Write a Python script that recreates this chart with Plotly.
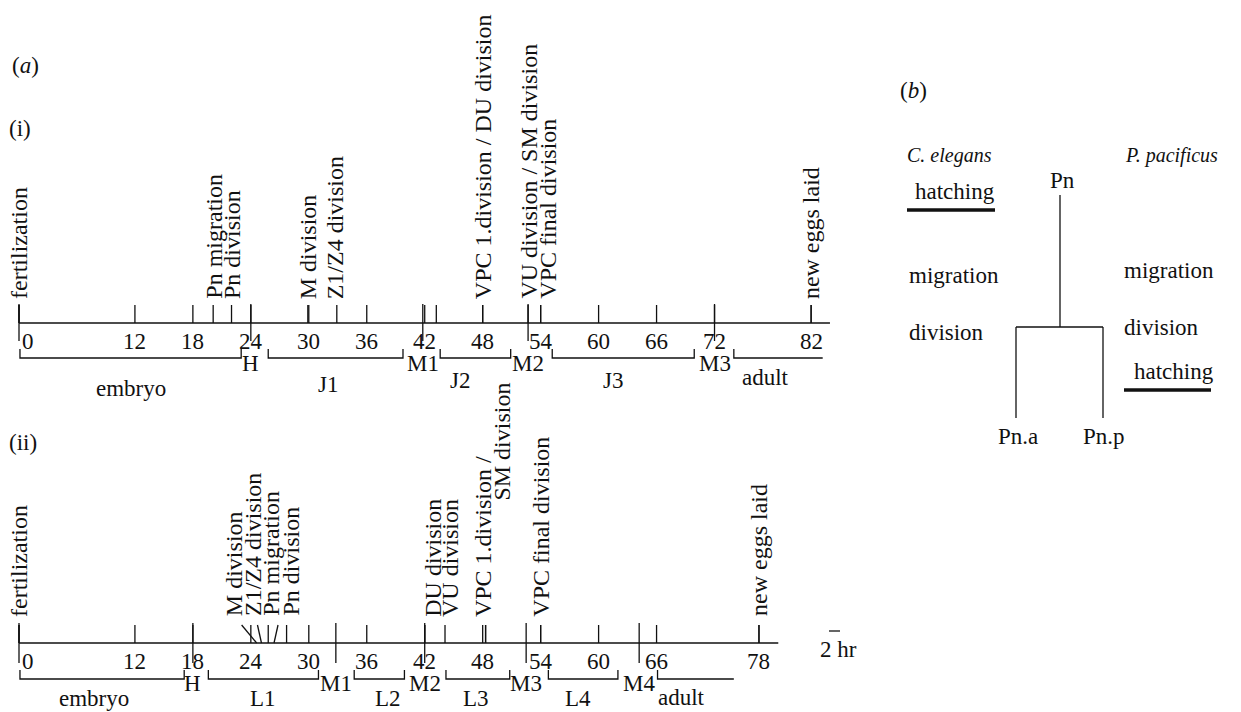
import plotly.graph_objects as go

# ---------------- data ----------------
# (i) P. pacificus timeline (hours)
hour_ticks_i = [0, 12, 18, 24, 30, 36, 42, 48, 54, 60, 66, 72, 82]
hour_labels_i = ["0", "12", "18", "24", "30", "36", "42", "48", "54", "60", "66", "72", "82"]
event_names_i = ["fertilization", "Pn migration", "Pn division", "M division",
                 "Z1/Z4 division", "VPC 1.division / DU division",
                 "VU division / SM division", "VPC final division", "new eggs laid"]
event_times_i = [0, 20.1, 22.0, 29.9, 32.9, 48.0, 52.7, 54.0, 82.0]
extra_ticks_i = [43.2]
molt_names_i = ["H", "M1", "M2", "M3"]
molt_times_i = [24.0, 41.8, 52.7, 72.0]
stage_names_i = ["embryo", "J1", "J2", "J3", "adult"]
stage_start_i = [0.1, 25.8, 43.6, 55.2, 74.0]
stage_end_i = [23.0, 39.75, 50.9, 69.9, 83.2]

# (ii) C. elegans timeline (hours)
hour_ticks_ii = [0, 12, 18, 24, 30, 36, 42, 48, 54, 60, 66, 76.6]
hour_labels_ii = ["0", "12", "18", "24", "30", "36", "42", "48", "54", "60", "66", "78"]
event_names_ii = ["fertilization", "M division", "Z1/Z4 division", "Pn migration",
                  "Pn division", "DU division", "VU division",
                  "VPC 1.division /", "SM division", "VPC final division", "new eggs laid"]
event_times_ii = [0, 24.6, 25.1, 25.8, 26.4, 42.0, 44.1, 48.3, 48.3, 54.0, 76.6]
extra_ticks_ii = [27.7]
molt_names_ii = ["H", "M1", "M2", "M3", "M4"]
molt_times_ii = [18.0, 32.8, 42.0, 52.5, 64.2]
stage_names_ii = ["embryo", "L1", "L2", "L3", "L4", "adult"]
stage_start_ii = [0.1, 19.6, 34.7, 44.2, 54.8, 66.1]
stage_end_ii = [17.1, 31.0, 39.9, 50.8, 62.0, 74.0]

# ---------------- layout constants ----------------
W, H = 1241, 712
PX_PER_HR = 9.66
X0_PX = 19
FONT = "Liberation Serif"
FS_H = 23     # horizontal text
FS_V = 24     # rotated text
FS_I = 20     # italic species names
LW = 1.3
INK = "#111111"

rows = {
    "i": dict(axis=323, axis_end=83.95, tick_top=305, long_top=304, long_bot=341,
              num_y=341, bracket=358, molt_y=363, text_bottom=301,
              stage_y=[388, 384, 380, 380, 377], stage_dx=[0, -8, -15, -10, -13],
              stage_bottom=[False] * 5,
              open_end=[False, False, False, False, True]),
    "ii": dict(axis=643, axis_end=78.6, tick_top=625, long_top=623, long_bot=663,
               num_y=661, bracket=679, molt_y=683, text_bottom=619,
               stage_y=[712, 712, 712, 712, 712, 697], stage_dx=[-8, 0, 9, -2, -5, -14],
               stage_bottom=[True, True, True, True, True, False],
               open_end=[False, False, False, False, False, True]),
}
# label placement tweaks for crowded rotated labels (px): x shift, bottom y
label_dx_i = [0, 0, 0, 0, -2, 0, 0, 7, 0]
label_bottom_i = [None] * 9
label_dx_ii = [0, -23, -9, 2, 16, 8, 5, -3, 16, 0, 0]
label_bottom_ii = [None, 618, 618, 618, 618, None, None, None, 503, None, 618]
# (ii) events drawn with a slanted leader (px offset of the leader's top end)
leader_ii = {1: -15, 2: -4, 4: 4}

fig = go.Figure()
ann = []


def hx(px):
    return (px - X0_PX) / PX_PER_HR


def add_lines(xs, ys, xaxis="x", width=LW):
    fig.add_trace(go.Scatter(x=xs, y=ys, mode="lines", xaxis=xaxis, yaxis="y",
                             line=dict(color=INK, width=width),
                             hoverinfo="skip", showlegend=False))


def timeline(key, ticks, tick_labels, ev_names, ev_times, molts, molt_t,
             stages, s0, s1, extra, dx, bottoms, leaders):
    r = rows[key]
    xs, ys = [], []
    xs += [0, r["axis_end"], None]
    ys += [r["axis"], r["axis"], None]
    for t in ticks:
        xs += [t, t, None]
        ys += [r["axis"], r["tick_top"], None]
    for t in extra:
        xs += [t, t, None]
        ys += [r["axis"], r["tick_top"], None]
    for k, t in enumerate(ev_times):
        if k in leaders:
            xs += [t, t + leaders[k] / PX_PER_HR, None]
        else:
            xs += [t, t, None]
        ys += [r["axis"], r["tick_top"], None]
    for t in [0] + list(molt_t):
        xs += [t, t, None]
        ys += [r["long_top"], r["long_bot"], None]
    for k in range(len(stages)):
        a, b = s0[k], s1[k]
        y = r["bracket"]
        if r["open_end"][k]:
            xs += [a, a, b, None]
            ys += [y - 9, y, y, None]
        else:
            xs += [a, a, b, b, None]
            ys += [y - 9, y, y, y - 9, None]
    add_lines(xs, ys)

    for t, lab in zip(ticks, tick_labels):
        ann.append(dict(x=t, y=r["num_y"], text=lab, xshift=9 if lab == "0" else 0,
                        xanchor="center", yanchor="middle", font=dict(size=FS_H)))
    for t, lab in zip(molt_t, molts):
        ann.append(dict(x=t, y=r["molt_y"], text=lab, xanchor="center",
                        yanchor="middle", font=dict(size=FS_H)))
    for k, lab in enumerate(stages):
        at_bottom = r["stage_bottom"][k]
        ann.append(dict(x=(s0[k] + s1[k]) / 2, y=r["stage_y"][k], text=lab,
                        xshift=r["stage_dx"][k], xanchor="center",
                        yanchor="bottom" if at_bottom else "middle",
                        borderpad=0 if at_bottom else 1,
                        font=dict(size=FS_H)))
    for k, (t, lab) in enumerate(zip(ev_times, ev_names)):
        yb = bottoms[k] if bottoms[k] is not None else r["text_bottom"]
        ann.append(dict(x=t, y=yb, text=lab, textangle=-90, xshift=dx[k],
                        xanchor="center", yanchor="bottom", font=dict(size=FS_V)))


timeline("i", hour_ticks_i, hour_labels_i, event_names_i, event_times_i,
         molt_names_i, molt_times_i, stage_names_i, stage_start_i, stage_end_i,
         extra_ticks_i, label_dx_i, label_bottom_i, {})
timeline("ii", hour_ticks_ii, hour_labels_ii, event_names_ii, event_times_ii,
         molt_names_ii, molt_times_ii, stage_names_ii, stage_start_ii, stage_end_ii,
         extra_ticks_ii, label_dx_ii, label_bottom_ii, leader_ii)

# scale bar "2 hr"
add_lines([829, 840], [631, 631], xaxis="x2")
ann.append(dict(x=838, y=649, xref="x2", text="2 hr", xanchor="center",
                yanchor="middle", font=dict(size=FS_H)))

# panel labels
for txt, px, py in [("(<i>a</i>)", 10, 65), ("(i)", 7, 128), ("(ii)", 7, 442),
                    ("(<i>b</i>)", 898, 90)]:
    ann.append(dict(x=px, y=py, xref="x2", text=txt, xanchor="left",
                    yanchor="middle", font=dict(size=FS_H)))

# ---------------- panel (b): Pn lineage schematic ----------------
tree_x = [1060, 1060, None, 1016, 1103, None, 1016, 1016, None, 1103, 1103]
tree_y = [195, 327, None, 327, 327, None, 327, 418, None, 327, 418]
add_lines(tree_x, tree_y, xaxis="x2")
add_lines([907, 995, None, 1124, 1211], [210, 210, None, 390, 390], xaxis="x2", width=3.5)

b_texts = [
    ("<i>C. elegans</i>", 949, 155, "center", FS_I),
    ("<i>P. pacificus</i>", 1171, 155, "center", FS_I),
    ("Pn", 1062, 180, "center", FS_H),
    ("hatching", 955, 191, "center", FS_H),
    ("migration", 907, 275, "left", FS_H),
    ("division", 907, 332, "left", FS_H),
    ("migration", 1122, 270, "left", FS_H),
    ("division", 1122, 327, "left", FS_H),
    ("hatching", 1174, 371, "center", FS_H),
    ("Pn.a", 1018, 436, "center", FS_H),
    ("Pn.p", 1104, 436, "center", FS_H),
]
for txt, px, py, xa, fs in b_texts:
    ann.append(dict(x=px, y=py, xref="x2", text=txt, xanchor=xa,
                    yanchor="middle", font=dict(size=fs)))

for a in ann:
    a.setdefault("xref", "x")
    a["yref"] = "y"
    a["showarrow"] = False
    a["font"] = dict(family=FONT, color=INK, size=a["font"]["size"])

fig.update_layout(
    width=W, height=H, margin=dict(l=0, r=0, t=0, b=0),
    paper_bgcolor="white", plot_bgcolor="white",
    font=dict(family=FONT, color=INK),
    xaxis=dict(range=[hx(0), hx(W)], visible=False, domain=[0, 1], fixedrange=True),
    xaxis2=dict(range=[0, W], visible=False, overlaying="x", anchor="y", fixedrange=True),
    yaxis=dict(range=[H, 0], visible=False, domain=[0, 1], fixedrange=True),
    annotations=ann,
    showlegend=False,
)
fig.write_html("out.html", config={"displayModeBar": False},
               post_script="document.body.style.margin='0px';")
